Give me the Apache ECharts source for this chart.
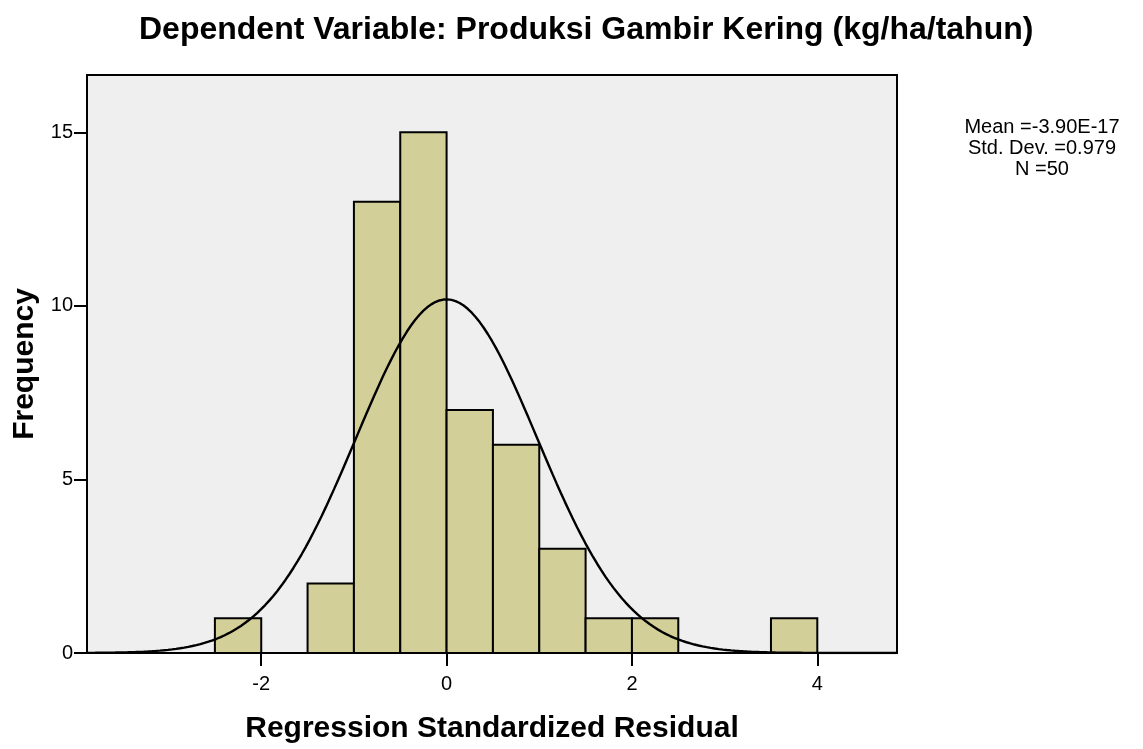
<!DOCTYPE html>
<html>
<head>
<meta charset="utf-8">
<title>Histogram</title>
<script src="https://cdn.jsdelivr.net/npm/echarts@6/dist/echarts.min.js"></script>
<style>
  html, body { margin: 0; padding: 0; background: #fff; }
  #chart { width: 1143px; height: 749px; }
</style>
</head>
<body>
<div id="chart"></div>
<script>
// bins of 0.5 width, left edges
var binStarts = [-2.5, -2.0, -1.5, -1.0, -0.5, 0.0, 0.5, 1.0, 1.5, 2.0, 2.5, 3.0, 3.5]
var counts = [1, 0, 2, 13, 15, 7, 6, 3, 1, 1, 0, 0, 1]
var binWidth = 0.5
var xTicks = [-2, 0, 2, 4]
var yTicks = [0, 5, 10, 15]
var statLines = ['Mean =-3.90E-17', 'Std. Dev. =0.979', 'N =50']
var mean = -3.90e-17
var sd = 0.979
var n = 50

var xMin = -3.88
var xMax = 4.86

var barData = binStarts.map(function (s, i) {
    return [s, s + binWidth, counts[i]]
})

// normal curve scaled to the histogram
var curve = []
for (var k = 0; k <= 200; k++) {
    var x = xMin + (xMax - xMin) * k / 200
    var z = (x - mean) / sd
    curve.push([x, n * binWidth * Math.exp(-0.5 * z * z) / (sd * Math.sqrt(2 * Math.PI))])
}

var font = 'Arial, "Liberation Sans", Helvetica, sans-serif'
var myChart = echarts.init(document.getElementById('chart'))
var option = {
    animation: false,
    textStyle: { fontFamily: font },
    title: {
        text: 'Dependent Variable: Produksi Gambir Kering (kg/ha/tahun)',
        left: 134,
        top: 9,
        textStyle: { fontSize: 32, fontWeight: 'bold', color: '#000', fontFamily: font }
    },
    grid: {
        left: 87, right: 246, top: 75, bottom: 96,
        containLabel: false,
        outerBoundsMode: 'none',
        show: true,
        backgroundColor: '#efefef',
        borderColor: '#000',
        borderWidth: 2
    },
    xAxis: {
        type: 'value',
        min: xMin,
        max: xMax,
        name: 'Regression Standardized Residual',
        nameLocation: 'middle',
        nameGap: 61,
        nameTextStyle: { fontSize: 30, fontWeight: 'bold', color: '#000', fontFamily: font },
        axisLine: { onZero: false, lineStyle: { color: '#000', width: 2 } },
        axisTick: { customValues: xTicks, length: 13, lineStyle: { color: '#000', width: 2 } },
        axisLabel: { customValues: xTicks, fontSize: 20, color: '#000', margin: 21, fontFamily: font },
        splitLine: { show: false }
    },
    yAxis: {
        type: 'value',
        min: 0,
        max: 16.65,
        name: 'Frequency',
        nameLocation: 'middle',
        nameGap: 46,
        nameTextStyle: { fontSize: 30, fontWeight: 'bold', color: '#000', fontFamily: font },
        axisLine: { show: true, onZero: false, lineStyle: { color: '#000', width: 2 } },
        axisTick: { customValues: yTicks, length: 13, lineStyle: { color: '#000', width: 2 } },
        axisLabel: { customValues: yTicks, fontSize: 20, color: '#000', margin: 14, fontFamily: font },
        splitLine: { show: false }
    },
    graphic: [{
        type: 'text',
        x: 1042,
        y: 117,
        style: {
            text: statLines.join('\n'),
            textAlign: 'center',
            textVerticalAlign: 'top',
            fontSize: 20,
            lineHeight: 21,
            fill: '#000',
            fontFamily: font
        }
    }],
    series: [
        {
            type: 'custom',
            data: barData,
            encode: { x: [0, 1], y: 2 },
            renderItem: function (params, api) {
                if (api.value(2) === 0) return null
                var p0 = api.coord([api.value(0), api.value(2)])
                var p1 = api.coord([api.value(1), 0])
                return {
                    type: 'rect',
                    shape: { x: p0[0], y: p0[1], width: p1[0] - p0[0], height: p1[1] - p0[1] },
                    style: { fill: '#d3cf99', stroke: '#000', lineWidth: 2 }
                }
            },
            z: 2
        },
        {
            type: 'line',
            data: curve,
            showSymbol: false,
            smooth: false,
            lineStyle: { color: '#000', width: 2.4 },
            z: 3
        }
    ]
}
myChart.setOption(option)
</script>
</body>
</html>
